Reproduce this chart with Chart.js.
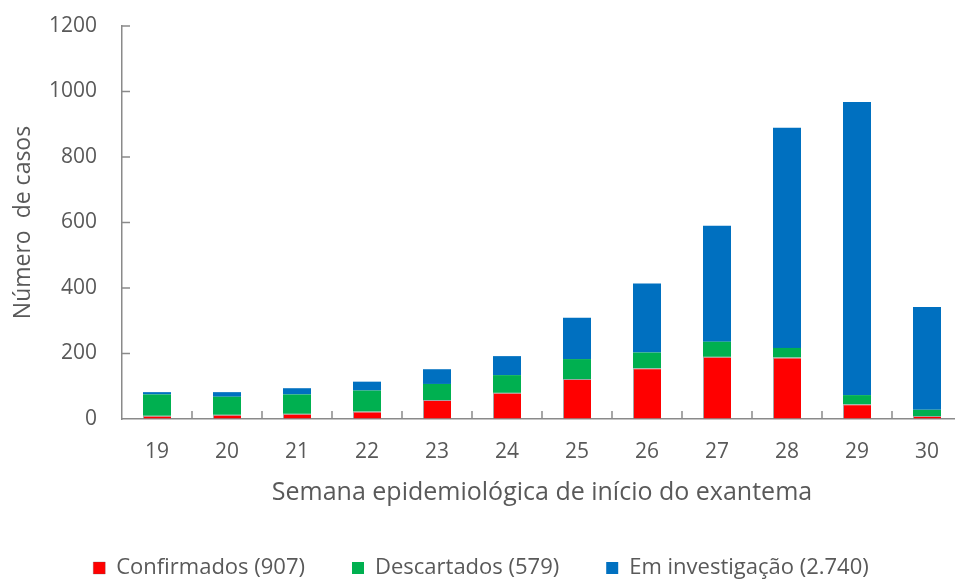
<!DOCTYPE html>
<html>
<head>
<meta charset="utf-8">
<script src="https://cdn.jsdelivr.net/npm/chart.js@4/dist/chart.umd.min.js"></script>
<style>
  html, body { margin: 0; padding: 0; background: #ffffff; overflow: hidden; }
  #wrap { position: absolute; left: 0; top: 0; width: 970px; height: 581px; }
</style>
</head>
<body>
<div id="wrap"><canvas id="c" width="970" height="581"></canvas></div>
<script>
const semanas = ['19','20','21','22','23','24','25','26','27','28','29','30'];
const confirmados = [10, 13, 16, 23, 58, 80, 122, 155, 190, 188, 45, 9];
const descartados = [65, 55, 59, 64, 49, 54, 61, 48, 46, 29, 28, 19];
const emInvestigacao = [7, 14, 19, 27, 45, 58, 126, 211, 354, 672, 895, 314];
const yTicks = [0, 200, 400, 600, 800, 1000, 1200];
const seriesNames = ['Confirmados (907)', 'Descartados (579)', 'Em investigação (2.740)'];
const seriesColors = ['#FF0000', '#00B050', '#0070C0'];

const FONT = '"Open Sans", Lato, sans-serif';
const TEXT = '#595959';
const AXIS = '#8a8a8a';

const insideTicks = {
  id: 'insideTicks',
  beforeLayout(chart) {
    const lg = chart.legend;
    if (lg && !lg._patched) {
      const orig = lg.fit.bind(lg);
      lg.fit = function () { orig(); this.height = 71; };
      lg._patched = true;
    }
  },
  afterDraw(chart) {
    const ctx = chart.ctx;
    const x = chart.scales.x, y = chart.scales.y;
    ctx.save();
    ctx.strokeStyle = AXIS;
    ctx.lineWidth = 1.5;
    ctx.beginPath();
    const n = semanas.length;
    for (let i = 1; i < n; i++) {
      const px = (x.getPixelForValue(i - 1) + x.getPixelForValue(i)) / 2;
      ctx.moveTo(px, y.bottom);
      ctx.lineTo(px, y.bottom - 8);
    }
    yTicks.forEach(v => {
      if (v === 0) return;
      const py = y.getPixelForValue(v);
      ctx.moveTo(x.left, py);
      ctx.lineTo(x.left + 8, py);
    });
    ctx.stroke();
    ctx.restore();
  }
};

new Chart(document.getElementById('c'), {
  type: 'bar',
  data: {
    labels: semanas,
    datasets: [
      { label: seriesNames[0], data: confirmados, backgroundColor: seriesColors[0],
        borderColor: 'rgba(90,90,90,0.55)', borderWidth: {top: 1, left: 1, right: 0, bottom: 0}, borderSkipped: false },
      { label: seriesNames[1], data: descartados, backgroundColor: seriesColors[1], borderWidth: 0 },
      { label: seriesNames[2], data: emInvestigacao, backgroundColor: seriesColors[2], borderWidth: 0 }
    ]
  },
  options: {
    responsive: false,
    animation: false,
    devicePixelRatio: 1,
    layout: { padding: { top: 26, right: 8, left: 0, bottom: 0 } },
    datasets: { bar: { barPercentage: 0.4, categoryPercentage: 1.0 } },
    plugins: {
      tooltip: { enabled: false },
      legend: {
        position: 'bottom',
        labels: {
          boxWidth: 12, boxHeight: 12, padding: 47,
          color: TEXT, font: { family: FONT, size: 22 }
        }
      }
    },
    scales: {
      x: {
        stacked: true,
        afterFit: s => { s.height = 91; },
        grid: { display: true, drawOnChartArea: false, drawTicks: false, offset: true },
        border: { display: true, color: AXIS, width: 1.5 },
        ticks: { color: TEXT, font: { family: FONT, size: 21 }, padding: 20, maxRotation: 0 },
        title: { display: true, text: 'Semana epidemiológica de início do exantema', color: TEXT,
                 font: { family: FONT, size: 25 }, padding: { top: 0, bottom: 2 } }
      },
      y: {
        stacked: true,
        min: 0, max: 1200,
        afterFit: s => { s.width = 122; s.paddingTop = 0; s.paddingBottom = 0; },
        afterBuildTicks: s => { s.ticks = yTicks.map(v => ({ value: v })); },
        grid: { display: true, drawOnChartArea: false, drawTicks: false },
        border: { display: true, color: AXIS, width: 1.5 },
        ticks: { color: TEXT, font: { family: FONT, size: 21 }, padding: 25,
                 callback: v => String(v) },
        title: { display: true, text: 'Número  de casos', color: TEXT,
                 font: { family: FONT, size: 23 }, padding: { top: 10, bottom: 0 } }
      }
    }
  },
  plugins: [insideTicks]
});
</script>
</body>
</html>
